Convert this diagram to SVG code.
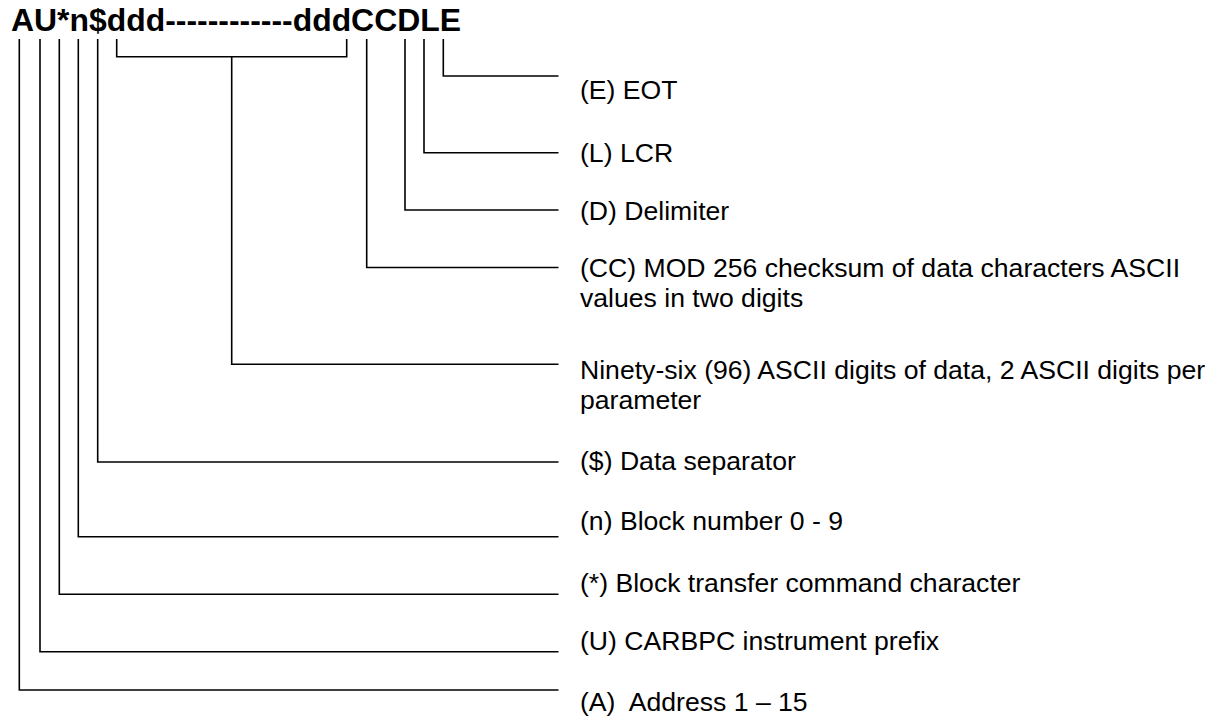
<svg xmlns="http://www.w3.org/2000/svg" width="1225" height="719" viewBox="0 0 1225 719">
<style>
.t{font-family:"Liberation Sans",Arial,sans-serif;font-size:26.6px;fill:#000}
.h{font-family:"Liberation Sans",Arial,sans-serif;font-size:31px;font-weight:bold;fill:#000}
.c{fill:none;stroke:#000;stroke-width:1.6}
</style>
<rect width="1225" height="719" fill="#fff"/>
<g id="title"><text class="h" x="11" y="31" textLength="450" lengthAdjust="spacingAndGlyphs">AU*n$ddd------------dddCCDLE</text></g>
<g id="connectors">
<path class="c" d="M443.3,39V76H558.5"/>
<path class="c" d="M424,39V152.7H558.5"/>
<path class="c" d="M405,39V210H558.5"/>
<path class="c" d="M366.7,39V267.5H558.5"/>
<path class="c" d="M116.7,39V56.7H346.7V39M231.7,56.7V364.3H558.5"/>
<path class="c" d="M97.7,39V462H558.5"/>
<path class="c" d="M78.3,39V536.7H558.5"/>
<path class="c" d="M59.3,39V594.3H558.5"/>
<path class="c" d="M40,39V651.7H558.5"/>
<path class="c" d="M19.3,39V690H558.5"/>
</g>
<g id="label-E"><text class="t" x="580" y="99">(E) EOT</text></g>
<g id="label-L"><text class="t" x="580" y="161.5">(L) LCR</text></g>
<g id="label-D"><text class="t" x="580" y="219.5">(D) Delimiter</text></g>
<g id="label-CC"><text class="t" x="580" y="276.5">(CC) MOD 256 checksum of data characters ASCII</text><text class="t" x="580" y="306.5">values in two digits</text></g>
<g id="label-data"><text class="t" x="580" y="378.5">Ninety-six (96) ASCII digits of data, 2 ASCII digits per</text><text class="t" x="580" y="408.5">parameter</text></g>
<g id="label-sep"><text class="t" x="580" y="470">($) Data separator</text></g>
<g id="label-n"><text class="t" x="580" y="529.5">(n) Block number 0 - 9</text></g>
<g id="label-star"><text class="t" x="580" y="592">(*) Block transfer command character</text></g>
<g id="label-U"><text class="t" x="580" y="650">(U) CARBPC instrument prefix</text></g>
<g id="label-A"><text class="t" x="580" y="711">(A)&#160; Address 1 – 15</text></g>
</svg>
